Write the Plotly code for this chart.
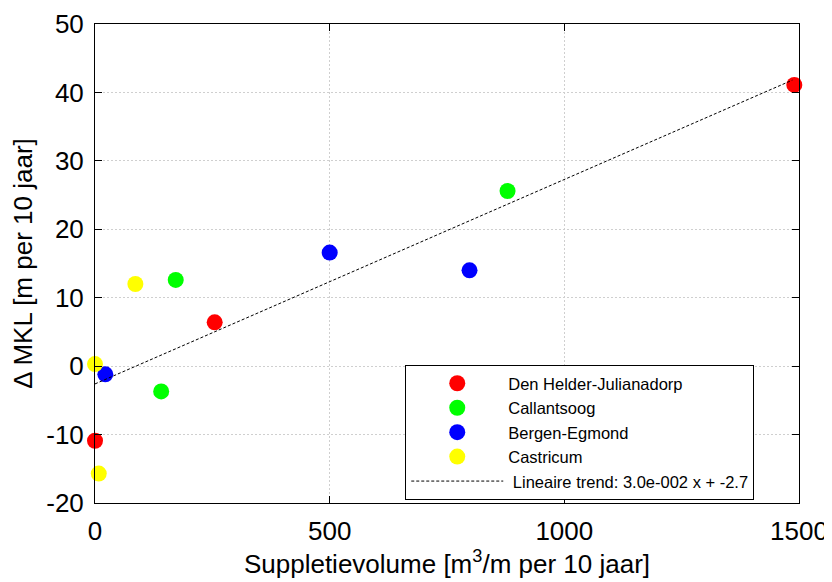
import plotly.graph_objects as go

# Data
den_helder_x = [0, 255, 1490]
den_helder_y = [-10.9, 6.4, 41.1]
callantsoog_x = [141, 172, 879]
callantsoog_y = [-3.7, 12.6, 25.6]
bergen_x = [22, 500, 798]
bergen_y = [-1.2, 16.6, 14.0]
castricum_x = [0, 8, 86]
castricum_y = [0.3, -15.7, 12.0]
trend_x = [0, 1486]
trend_y = [-2.6, 41.8]

x_ticks = [0, 500, 1000, 1500]
y_ticks = [-20, -10, 0, 10, 20, 30, 40, 50]

FONT = "Liberation Sans, Arial, sans-serif"

fig = go.Figure()
series = [
    ("Den Helder-Julianadorp", den_helder_x, den_helder_y, "#ff0000"),
    ("Callantsoog", callantsoog_x, callantsoog_y, "#00ff00"),
    ("Bergen-Egmond", bergen_x, bergen_y, "#0000ff"),
    ("Castricum", castricum_x, castricum_y, "#ffff00"),
]
for name, xs, ys, col in series:
    fig.add_trace(go.Scatter(x=xs, y=ys, mode="markers", name=name,
                             marker=dict(size=16, color=col, line=dict(width=0)),
                             cliponaxis=False))
fig.add_trace(go.Scatter(x=trend_x, y=trend_y, mode="lines",
                         name="\u00a0Lineaire trend: 3.0e-002 x + -2.7",
                         line=dict(color="black", width=1, dash="3px,2px")))

axis_common = dict(showline=True, linecolor="black", linewidth=1, mirror="ticks",
                   ticks="inside", ticklen=7, tickcolor="black", tickwidth=1,
                   showgrid=True, gridcolor="#cfcfcf", griddash="2px,2px", gridwidth=1,
                   zeroline=False, automargin=False,
                   tickfont=dict(family=FONT, size=26, color="black"))

fig.update_xaxes(range=[0, 1500], tickvals=x_ticks, ticktext=[str(v) for v in x_ticks],
                 ticklabelstandoff=5,
                 title=dict(text="Suppletievolume [m<sup>3</sup>/m per 10 jaar]",
                            font=dict(family=FONT, size=26, color="black"), standoff=6),
                 **axis_common)
fig.update_yaxes(range=[-20, 50], tickvals=y_ticks, ticktext=[str(v) for v in y_ticks],
                 ticklabelstandoff=5,
                 title=dict(text="Δ MKL [m per 10 jaar]",
                            font=dict(family=FONT, size=26, color="black"), standoff=12),
                 **axis_common)

fig.update_layout(
    width=824, height=574,
    margin=dict(l=86.5, r=33, t=16, b=79),
    paper_bgcolor="white", plot_bgcolor="white",
    font=dict(family=FONT, color="black"),
    showlegend=True,
    legend=dict(x=0.4407, y=0.288, xanchor="left", yanchor="top",
                bgcolor="white", bordercolor="black", borderwidth=1,
                font=dict(family=FONT, size=16.5, color="black"),
                itemwidth=92, tracegroupgap=0, entrywidth=368),
)

fig.write_html("out.html")
